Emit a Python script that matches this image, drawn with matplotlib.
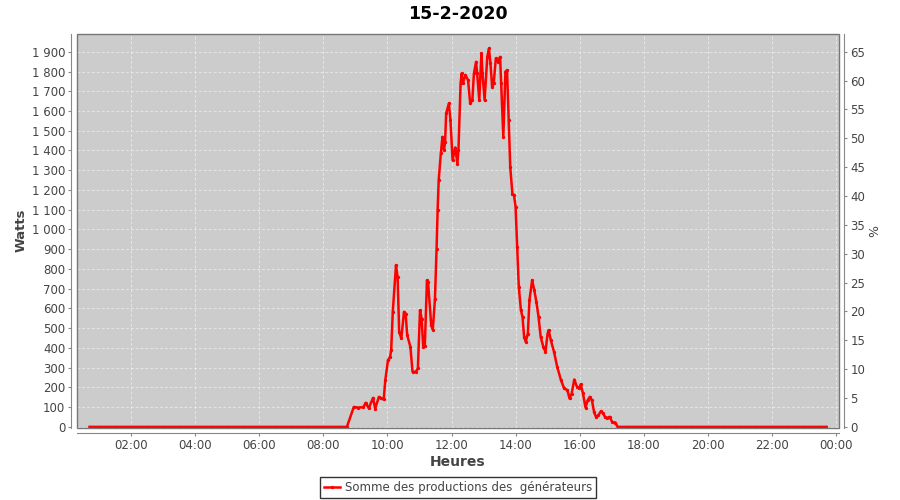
import matplotlib
matplotlib.use('Agg')
import matplotlib.pyplot as plt
from matplotlib.patches import Rectangle
from matplotlib.ticker import FuncFormatter, MultipleLocator

# relevé du 15-2-2020, heure -> watts
heures_nuit_matin = ['00:42', '01:00', '01:30', '02:00', '02:30', '03:00', '03:30', '04:00',
                     '04:30', '05:00', '05:30', '06:00', '06:30', '07:00', '07:30', '08:00',
                     '08:30']
heures_jour = ['08:44', '08:57', '09:05', '09:15', '09:19', '09:25', '09:33', '09:37', '09:44',
               '09:48', '09:53', '09:56', '10:01', '10:05', '10:07', '10:10', '10:16', '10:19',
               '10:22', '10:26', '10:31', '10:34', '10:37', '10:43', '10:47', '10:53', '10:57',
               '11:01', '11:04', '11:07', '11:10', '11:14', '11:16', '11:22', '11:25', '11:29',
               '11:32', '11:34', '11:36', '11:40', '11:43', '11:46', '11:48', '11:50', '11:55',
               '11:58', '12:02', '12:07', '12:11', '12:13', '12:17', '12:19', '12:21', '12:26',
               '12:31', '12:35', '12:39', '12:42', '12:46', '12:48', '12:52', '12:56', '12:58',
               '13:02', '13:07', '13:10', '13:13', '13:16', '13:19', '13:23', '13:27', '13:31',
               '13:33', '13:37', '13:41', '13:44', '13:47', '13:50', '13:54', '13:57', '14:00',
               '14:03', '14:06', '14:10', '14:13', '14:16', '14:19', '14:23', '14:26', '14:31',
               '14:35', '14:39', '14:43', '14:47', '14:52', '14:56', '15:00', '15:02', '15:06',
               '15:12', '15:18', '15:25', '15:31', '15:37', '15:41', '15:45', '15:50', '15:55',
               '15:59', '16:02', '16:06', '16:11', '16:15', '16:19', '16:23', '16:27', '16:31',
               '16:35', '16:40', '16:44', '16:48', '16:52', '16:56', '17:01', '17:07', '17:11']
watts_jour = [0, 101, 98, 100, 122, 95, 147, 93, 152,
              144, 139, 237, 338, 355, 389, 583, 819, 760,
              481, 448, 583, 574, 465, 405, 279, 279, 296,
              591, 549, 405, 410, 743, 735, 515, 493, 650,
              900, 1098, 1250, 1385, 1469, 1402, 1444, 1588, 1638,
              1554, 1351, 1415, 1334, 1402, 1740, 1790, 1740, 1782,
              1756, 1638, 1655, 1790, 1849, 1790, 1655, 1892, 1790,
              1655, 1874, 1917, 1841, 1723, 1740, 1866, 1849, 1874,
              1740, 1469, 1799, 1807, 1554, 1317, 1182, 1174, 1115,
              912, 709, 591, 557, 456, 431, 473, 642, 743,
              693, 633, 557, 456, 405, 380, 473, 490, 439,
              380, 304, 237, 195, 186, 144, 169, 240, 203,
              195, 216, 172, 98, 135, 152, 135, 76, 48,
              59, 80, 68, 48, 46, 51, 25, 22, 0]
heures_nuit_soir = ['17:30', '18:00', '18:30', '19:00', '19:30', '20:00', '20:30', '21:00',
                    '21:30', '22:00', '22:30', '23:00', '23:30', '23:42']

graduations_x = [2, 4, 6, 8, 10, 12, 14, 16, 18, 20, 22, 24]
pourcent_max = 65      # 65 % = 1900 W
watts_ref = 1900

def en_heures(t):
    hh, mm = t.split(':')
    return int(hh) + int(mm) / 60

heures = heures_nuit_matin + heures_jour + heures_nuit_soir
watts = [0] * len(heures_nuit_matin) + watts_jour + [0] * len(heures_nuit_soir)
x = [en_heures(t) for t in heures]

gris_texte = '#444444'
fig = plt.figure(figsize=(9, 5), dpi=100)
ax = fig.add_axes([0.0856, 0.145, 0.8464, 0.787])
ax.set_facecolor('#cccccc')

ax.plot(x, watts, color='#ff0000', lw=1.8, marker='o', markersize=1.4, label='Somme des productions des  générateurs')

ax.set_xlim(0.31, 24.09)
ax.set_ylim(-3, 1990)
ax.xaxis.set_major_locator(plt.FixedLocator(graduations_x))
ax.xaxis.set_major_formatter(FuncFormatter(lambda v, p: f'{int(round(v)) % 24:02d}:00'))
ax.yaxis.set_major_locator(MultipleLocator(100))
ax.yaxis.set_major_formatter(FuncFormatter(lambda v, p: f'{int(v):,}'.replace(',', ' ')))
ax.grid(True, color='#f0f0f0', linestyle=(0, (4, 3)), linewidth=0.5)
ax.set_axisbelow(True)

for cote in ['left', 'bottom', 'right']:
    ax.spines[cote].set_position(('outward', 4))
    ax.spines[cote].set_color('#888888')
ax.spines['top'].set_visible(False)
ax.spines['right'].set_visible(False)
ax.add_patch(Rectangle((0, 0), 1, 1, transform=ax.transAxes, fill=False,
                       edgecolor='#777777', lw=1.0, clip_on=False, zorder=5))
ax.tick_params(colors='#888888', labelcolor=gris_texte, labelsize=8.5, length=2.5, width=0.8, pad=2)

ax.set_xlabel('Heures', fontsize=10, fontweight='bold', color=gris_texte, labelpad=2)
ax.set_ylabel('Watts', fontsize=9.5, fontweight='bold', color=gris_texte, labelpad=3)
ax.set_title('15-2-2020', fontsize=12.5, fontweight='bold', pad=11)

ax2 = ax.twinx()
ax2.set_ylim(-3 * pourcent_max / watts_ref, 1990 * pourcent_max / watts_ref)
ax2.yaxis.set_major_locator(MultipleLocator(5))
for cote in ['left', 'bottom', 'top']:
    ax2.spines[cote].set_visible(False)
ax2.spines['right'].set_position(('outward', 4))
ax2.spines['right'].set_color('#888888')
ax2.tick_params(colors='#888888', labelcolor=gris_texte, labelsize=8.5, length=2.5, width=0.8, pad=2)
ax2.set_ylabel('%', fontsize=9, color=gris_texte, labelpad=2)

leg = ax.legend(loc='upper center', bbox_to_anchor=(0.5, -0.127), frameon=True, fancybox=False,
                fontsize=8.5, handlelength=1.4, handletextpad=0.4, borderpad=0.3, borderaxespad=0)
leg.get_frame().set_edgecolor('black')
leg.get_frame().set_linewidth(1.0)
for t in leg.get_texts():
    t.set_color(gris_texte)

fig.savefig('out.png', dpi=100)
